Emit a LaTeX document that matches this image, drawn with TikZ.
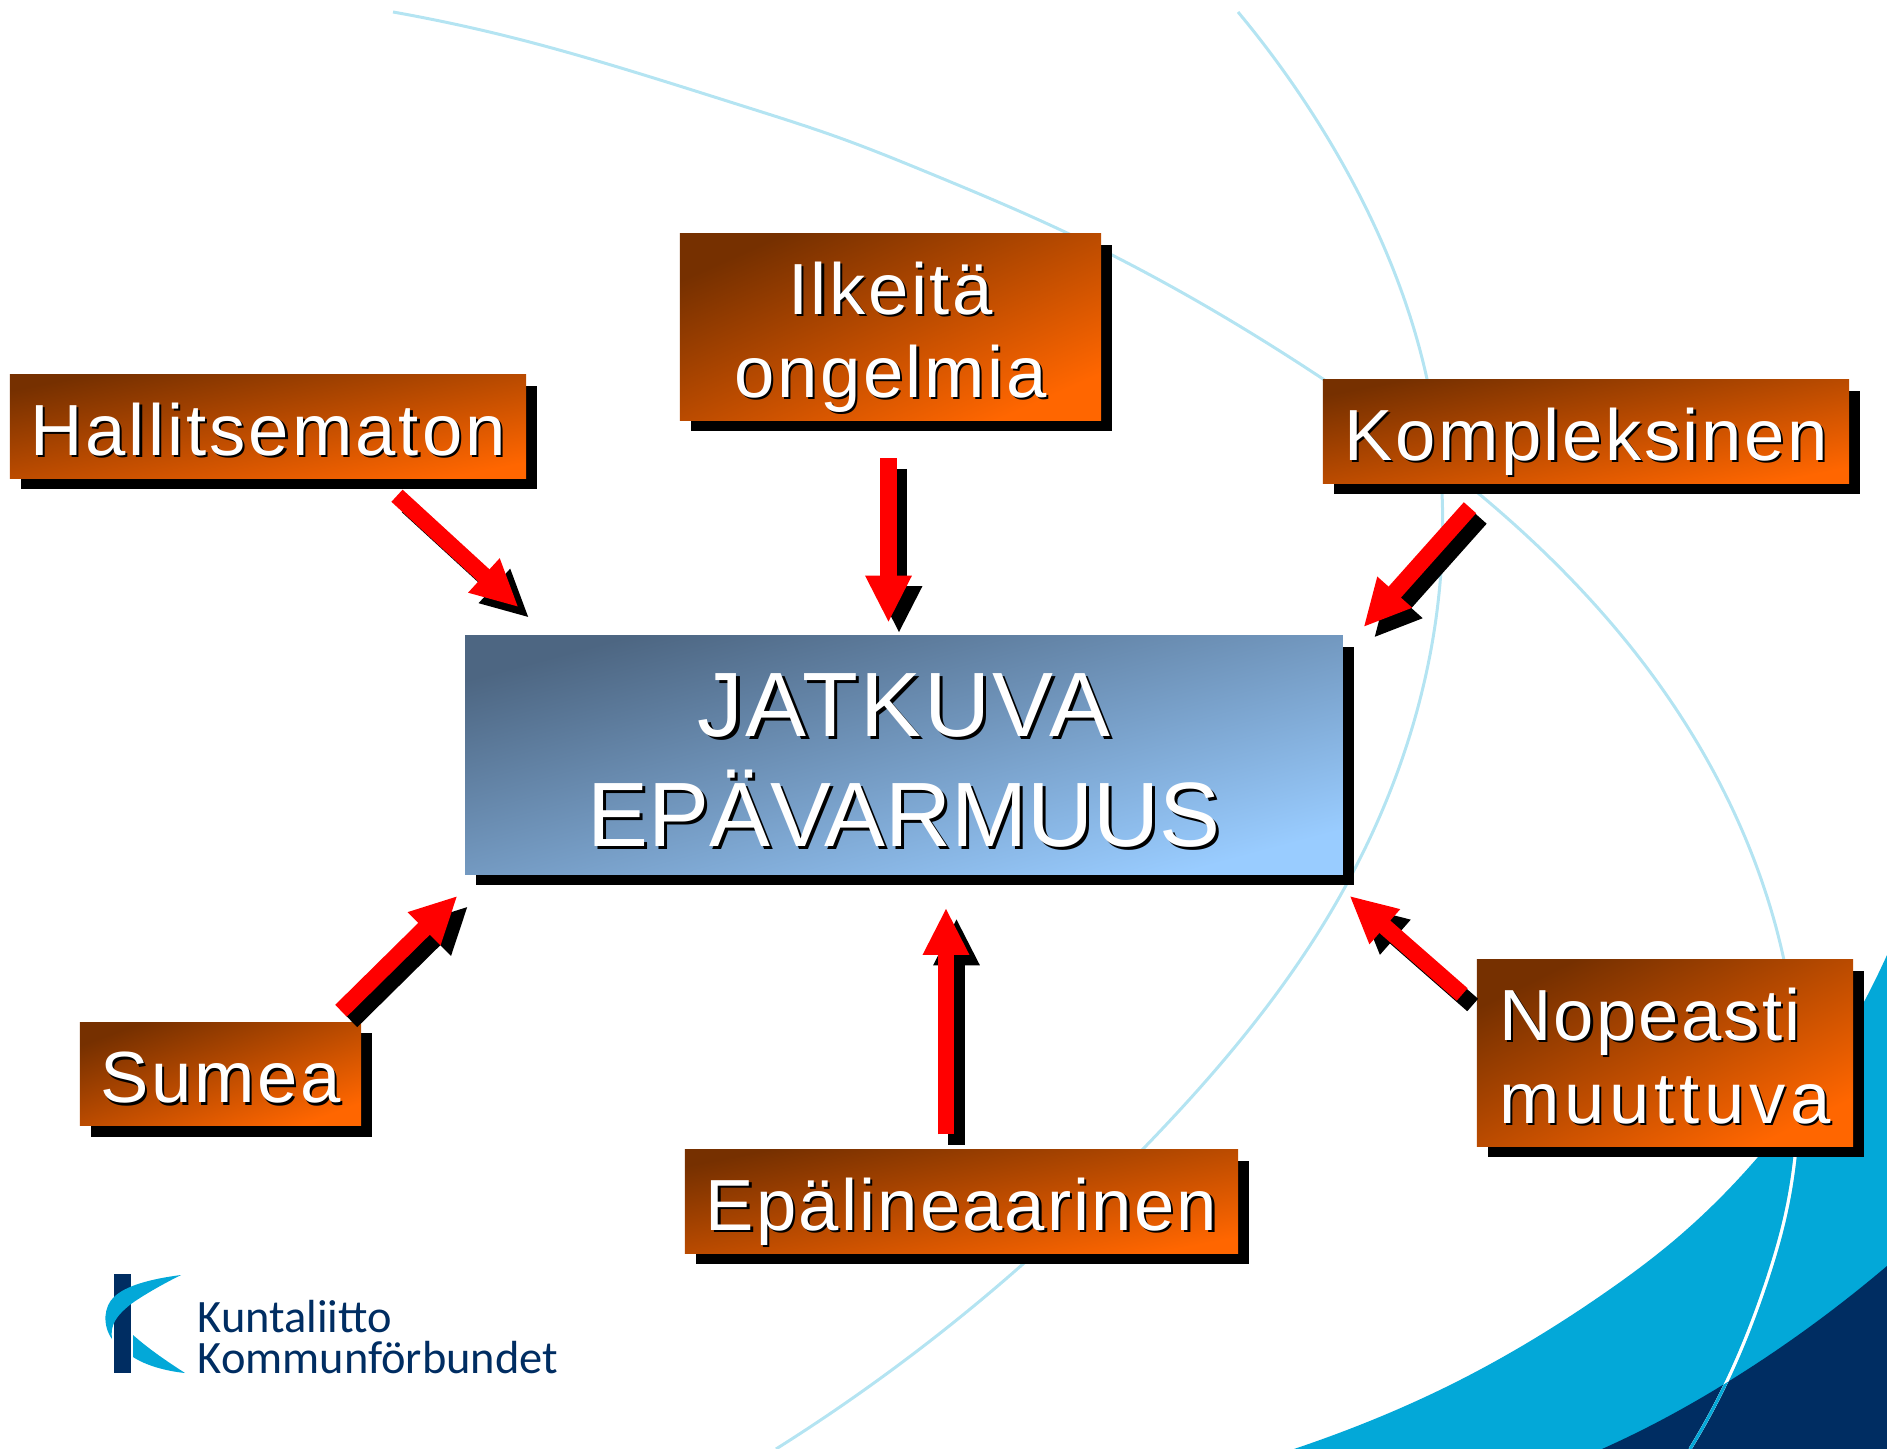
\documentclass[tikz,border=0pt]{standalone}
\usepackage{fontspec}
\usepackage{xcolor}
\usetikzlibrary{arrows.meta}
\usetikzlibrary{shadows}
\usetikzlibrary{hobby}
\setmainfont{Liberation Sans}
\newfontfamily\boxfont[LetterSpace=3.5]{Liberation Sans}
\newfontfamily\logofont{Carlito}

\definecolor{ruskea}{HTML}{763000}
\definecolor{oranssi}{HTML}{FF6600}
\definecolor{harmaasin}{HTML}{4D6682}
\definecolor{vaaleasin}{HTML}{99CCFF}
\definecolor{syaani}{HTML}{03A8D8}
\definecolor{tummasin}{HTML}{002D62}
\definecolor{kaari}{HTML}{B4E4F2}

\newcommand{\varjoteksti}[1]{\raisebox{-8.2pt}[0pt][0pt]{\makebox[0pt][l]{\kern.65pt\raisebox{-.65pt}{\color{black}#1}}\color{white}#1}}
\newcommand{\isovarjo}[1]{\raisebox{-10.4pt}[0pt][0pt]{\makebox[0pt][l]{\kern.9pt\raisebox{-.9pt}{\color{black}#1}}\color{white}#1}}
\newcommand{\nuoli}[2]{
	\draw[nuolityyli, black] ([shift={(10.5,10.5)}]#1) -- ([shift={(10.5,10.5)}]#2);
	\draw[nuolityyli, red] (#1) -- (#2);
}
\newcommand{\kaarisyaani}{(1294,1449) .. (1339,1433) .. (1446,1387) .. (1537,1337) .. (1606,1292) .. (1671,1243) .. (1758,1157) .. (1865,1000) .. (1887,955)}
\newcommand{\kaaritumma}{(1602,1449) .. (1648,1427) .. (1726,1383) .. (1823,1317) .. (1887,1266)}
\newcommand{\kaarialku}{(1774,920) .. (1795,1157) .. (1785,1217) .. (1766,1283) .. (1726,1383) .. (1690,1449)}

\tikzset{
	laatikko/.style={shade, top color=ruskea, bottom color=oranssi, shading angle=#1, inner sep=0pt,
		font=\boxfont\fontsize{20.6}{23.6}\selectfont,
		general shadow={fill=black, shadow xshift=0.11cm, shadow yshift=-0.11cm}},
	isolaatikko/.style={shade, top color=harmaasin, bottom color=vaaleasin, shading angle=15, inner sep=0pt,
		general shadow={fill=black, shadow xshift=0.11cm, shadow yshift=-0.11cm},
		font=\fontsize{26}{31.2}\selectfont, minimum width=8.77cm, minimum height=2.38cm},
	nuolityyli/.style={line width=0.165cm, -{Triangle[length=0.47cm,width=0.43cm]}},
	viiva/.style={line width=0.03cm},
}

\begin{document}
\begin{tikzpicture}[x=0.01cm,y=-0.01cm,use Hobby shortcut]
	\useasboundingbox (0,0) rectangle (1887,1449);
	\clip (0,0) rectangle (1887,1449);
	
	%TAUSTA
	\fill[syaani] \kaarisyaani -- (1887,1449) -- cycle;
	\fill[tummasin] \kaaritumma -- (1887,1449) -- cycle;
	
	%kaaret
	\draw[viiva, kaari] (393,12) .. (514,38) .. (621,68) .. (746,107) .. (840,138) .. (929,173) .. (1065,232) .. (1323,379) .. (1478,493) .. (1641,660) .. \kaarialku;
	\draw[viiva, kaari] (1238,12) .. (1324,132) .. (1427,379) .. (1442,493) .. (1429,660) .. (1326,920) .. (1143,1149) .. (1023,1264) .. (776,1449);
	\begin{scope}
		\clip \kaarisyaani -- (1887,1449) -- cycle;
		\draw[viiva, white] \kaarialku;
	\end{scope}
	\begin{scope}
		\clip \kaaritumma -- (1887,1449) -- cycle;
		\draw[viiva, syaani] \kaarialku;
	\end{scope}
	
	%LAATIKOT
	\node[isolaatikko, align=center] (epavarmuus) at (904,755) {\isovarjo{\addfontfeature{LetterSpace=2.6}JATKUVA}\\\isovarjo{EPÄVARMUUS}};
	\node[laatikko=24, align=center, minimum width=4.21cm, minimum height=1.86cm] (ilkeita) at (890.5,327) {\varjoteksti{Ilkeitä}\\\varjoteksti{ongelmia}};
	\node[laatikko=11, minimum width=5.16cm, minimum height=1.03cm] (hallitsematon) at (268,426.5) {\varjoteksti{\addfontfeature{LetterSpace=4.2}Hallitsematon}};
	\node[laatikko=11, minimum width=5.26cm, minimum height=1.03cm] (kompleksinen) at (1586,431.5) {\varjoteksti{Kompleksinen}};
	\node[laatikko=20, minimum width=2.81cm, minimum height=1.03cm] (sumea) at (220.5,1074) {\varjoteksti{Sumea}};
	\node[laatikko=11, minimum width=5.53cm, minimum height=1.03cm] (epalineaarinen) at (961.5,1201.5) {\varjoteksti{\addfontfeature{LetterSpace=3}Epälineaarinen}};
	\node[laatikko=26, align=left, minimum width=3.76cm, minimum height=1.86cm] (nopeasti) at (1665,1053) {\varjoteksti{\addfontfeature{LetterSpace=3}Nopeasti}\\\varjoteksti{\addfontfeature{LetterSpace=6.5}muuttuva}};
	
	%NUOLET
	\coordinate (hallitsematonA) at ([shift={(129,17)}]hallitsematon.south);
	\coordinate (hallitsematonB) at ([shift={(54,-28)}]epavarmuus.north west);
	\coordinate (ilkeitaA) at ([shift={(-2,37.5)}]ilkeita.south);
	\coordinate (ilkeitaB) at ([shift={(-15.5,-12.5)}]epavarmuus.north);
	\coordinate (kompleksinenA) at ([shift={(-116,24)}]kompleksinen.south);
	\coordinate (kompleksinenB) at ([shift={(20,-8)}]epavarmuus.north east);
	\coordinate (sumeaA) at ([shift={(120.5,-11)}]sumea.north);
	\coordinate (sumeaB) at ([shift={(-7,21)}]epavarmuus.south west);
	\coordinate (epalineaarinenA) at ([shift={(-15.5,-15)}]epalineaarinen.north);
	\coordinate (epalineaarinenB) at ([shift={(42,33)}]epavarmuus.south);
	\coordinate (nopeastiA) at ([shift={(-14,-58.5)}]nopeasti.west);
	\coordinate (nopeastiB) at ([shift={(6,21)}]epavarmuus.south east);
	\nuoli{hallitsematonA}{hallitsematonB}
	\nuoli{ilkeitaA}{ilkeitaB}
	\nuoli{kompleksinenA}{kompleksinenB}
	\nuoli{sumeaA}{sumeaB}
	\nuoli{epalineaarinenA}{epalineaarinenB}
	\nuoli{nopeastiA}{nopeastiB}
	
	%LOGO
	\fill[tummasin] (114,1274) rectangle (131,1373);
	\fill[syaani] (181,1275) .. controls (150,1279) and (125,1286) .. (114,1297) .. controls (104,1306) and (102,1325) .. (112,1339) .. controls (110,1325) and (116,1316) .. (131,1304) .. controls (145,1294) and (165,1283) .. (181,1275) -- cycle;
	\fill[syaani] (133,1335) .. controls (150,1350) and (168,1362) .. (185,1373) .. controls (165,1371) and (145,1365) .. (133,1357) -- cycle;
	\node[font=\logofont\fontsize{13.2}{11.7}\selectfont, text=tummasin, align=left, inner sep=0pt, anchor=south west] (kuntaliitto) at (197,1375) {Kuntaliitto\\Kommunförbundet};
\end{tikzpicture}
\end{document}
